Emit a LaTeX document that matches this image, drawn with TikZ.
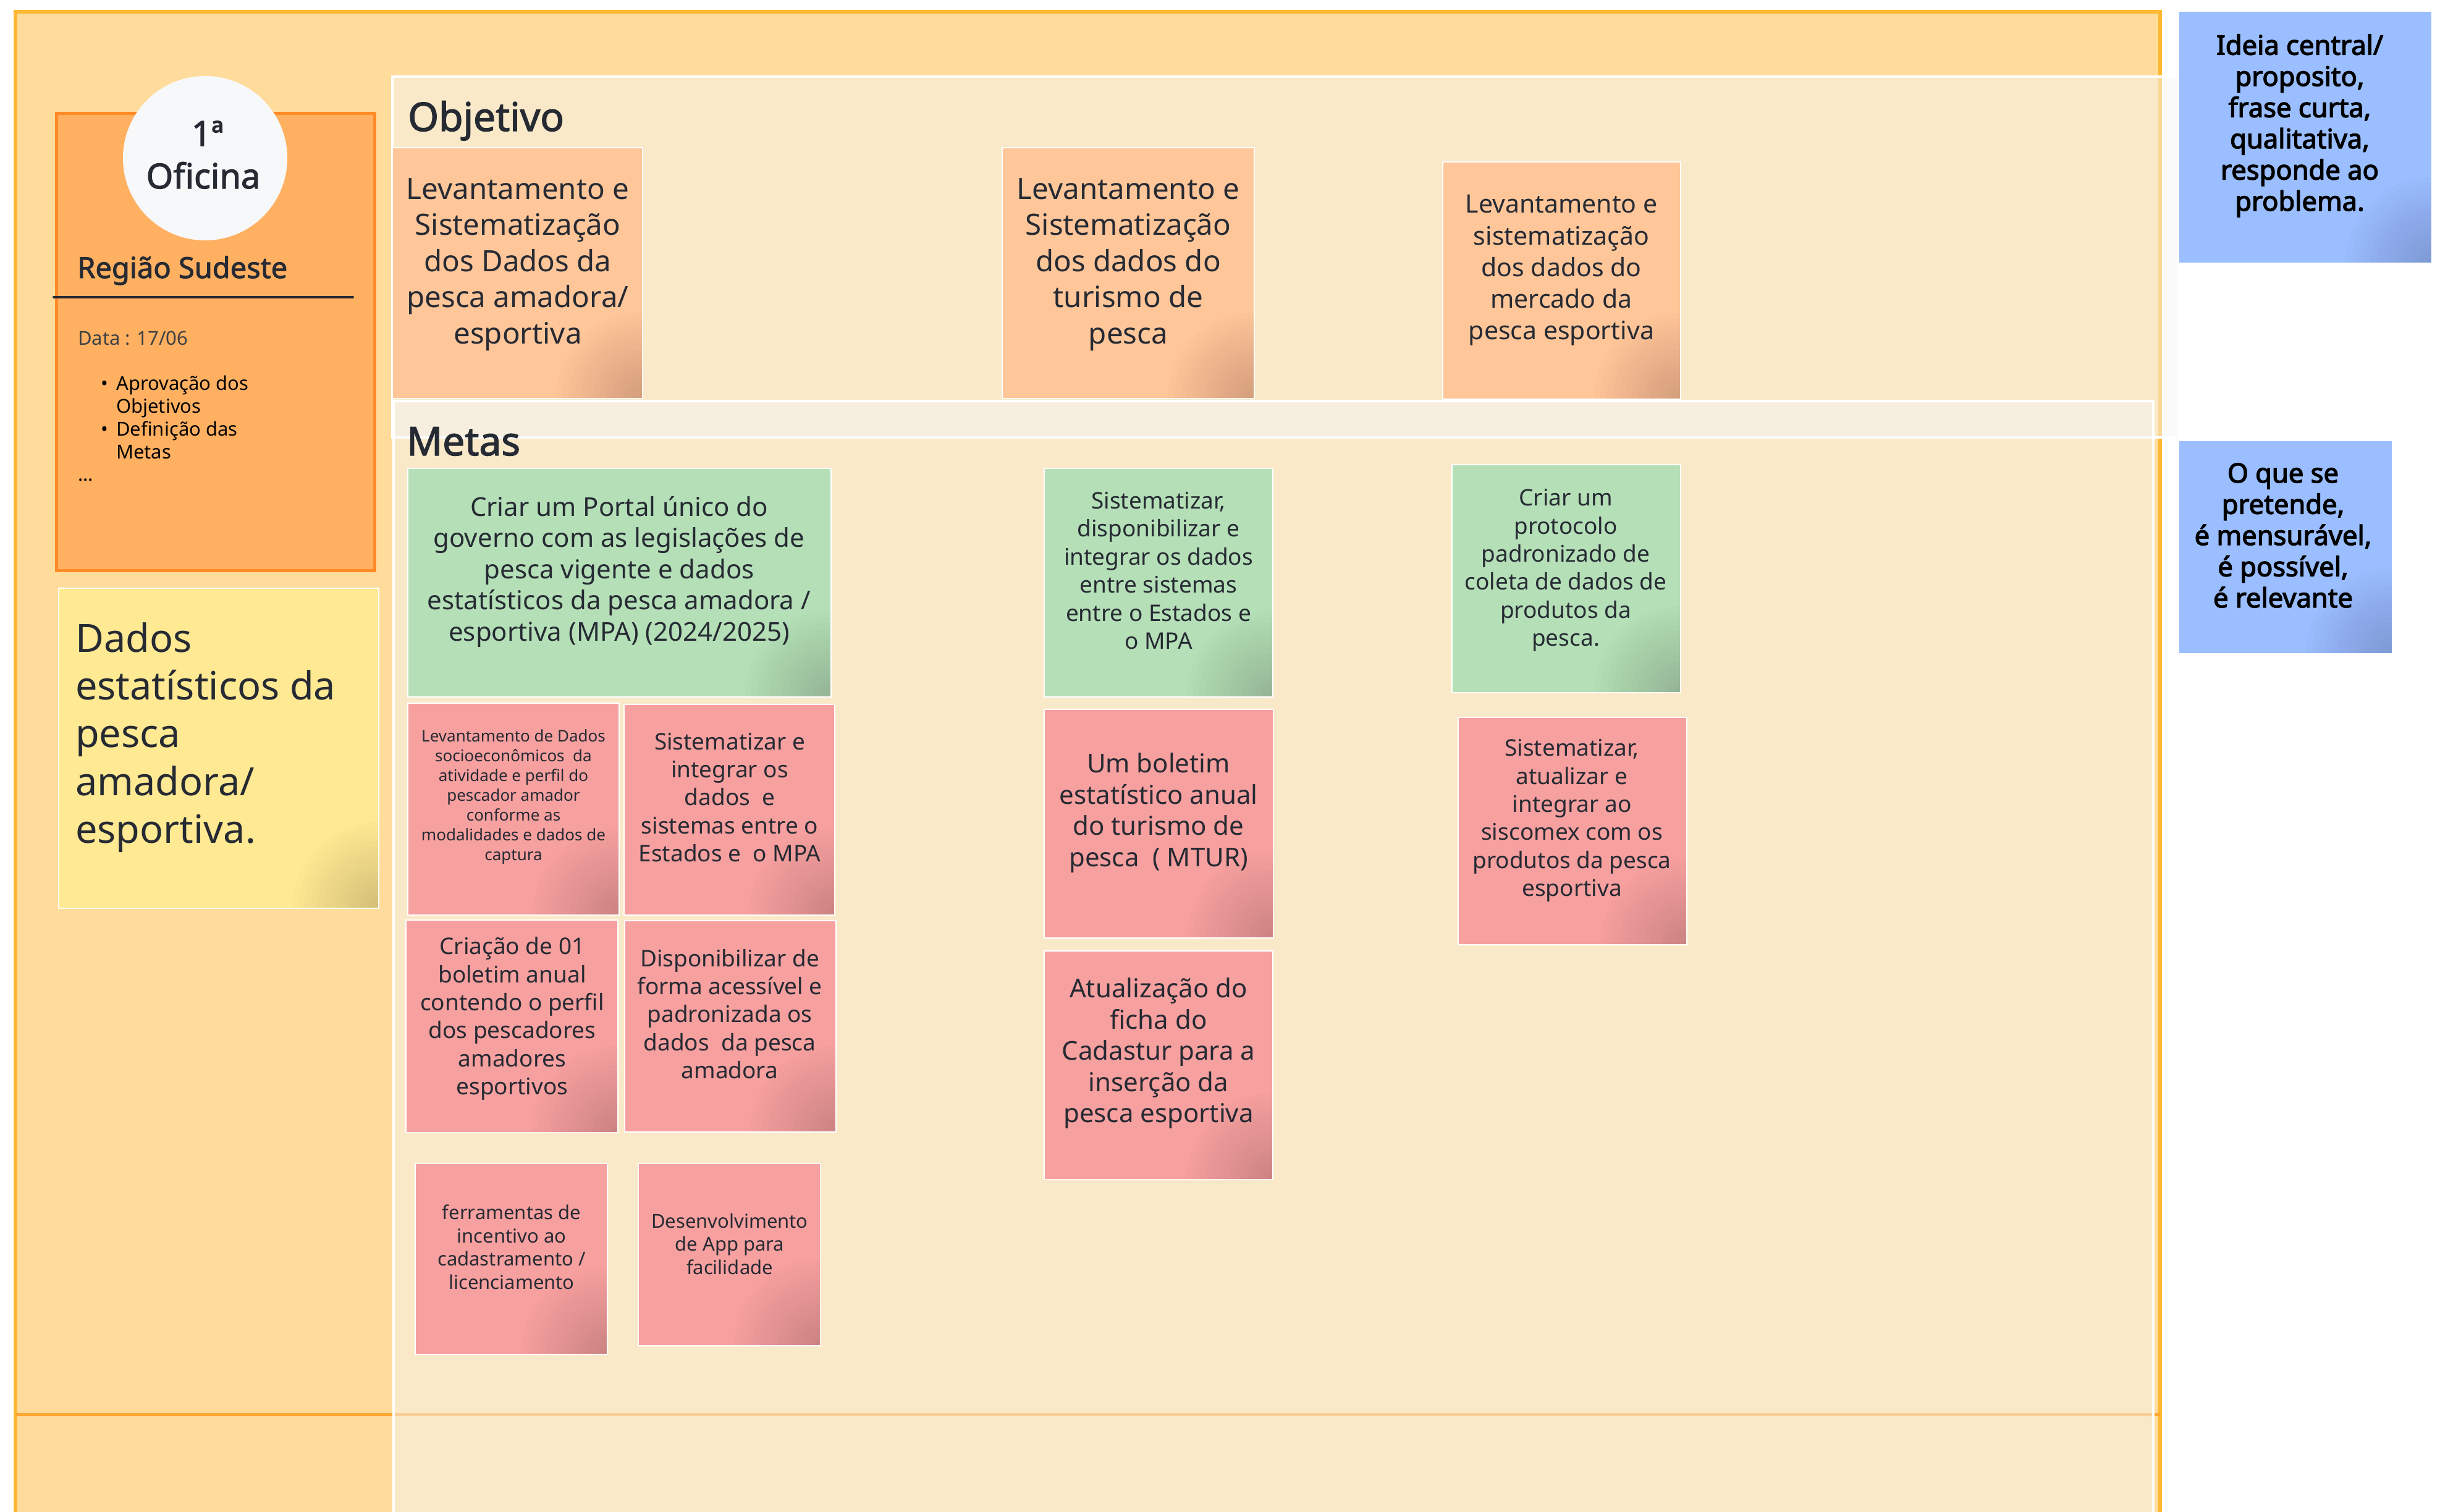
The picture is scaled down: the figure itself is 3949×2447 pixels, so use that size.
\documentclass[tikz,border=0pt]{standalone}
\usepackage{fontspec}
\setmainfont{Noto Sans}
\newfontfamily\hbold{Noto Sans}[FakeBold=2]
\newfontfamily\hboldx{Noto Sans}[FakeBold=3]
\definecolor{frameor}{HTML}{FFDC9B}
\definecolor{frameln}{HTML}{FFB833}
\definecolor{divln}{HTML}{FFA633}
\definecolor{panelc}{HTML}{F5F6F7}
\definecolor{ocard}{HTML}{FFB061}
\definecolor{ocardln}{HTML}{FF8B27}
\definecolor{circf}{HTML}{F7F8FA}
\definecolor{ycard}{HTML}{FFE993}
\definecolor{peach}{HTML}{FFC699}
\definecolor{mgreen}{HTML}{B5DFB7}
\definecolor{mpink}{HTML}{F6A09F}
\definecolor{mblue}{HTML}{9ABEFF}
\definecolor{ink}{HTML}{262A33}
\definecolor{grayt}{HTML}{3C4043}
\begin{document}
\begin{tikzpicture}[x=1pt,y=-1pt,
  card/.style={draw=white, line width=1.5pt, inner sep=0pt, fill=#1,
    path picture={\foreach \r in {10,20,...,140}
      {\fill[black, opacity=0.013] (path picture bounding box.south east) circle (\r pt);}}},
  txt/.style={text=ink, align=center, inner sep=0pt},
  lt/.style={text=ink, inner sep=0pt, anchor=base west},
  f47/.style={font=\fontsize{47.5}{58.6}\selectfont},
  f42/.style={font=\fontsize{42}{50.5}\selectfont},
  f41/.style={font=\fontsize{41}{51.2}\selectfont},
  f37/.style={font=\fontsize{37}{45.4}\selectfont},
  f31/.style={font=\fontsize{31}{37.5}\selectfont},
  f26/.style={font=\fontsize{26}{32}\selectfont},
  fb40/.style={font=\fontsize{43.5}{50.5}\selectfont\hboldx},
  panel/.style={fill=panelc, fill opacity=0.5, draw=white, line width=3.5pt}]
\useasboundingbox (0,0) rectangle (3949,2447);
\clip (0,0) rectangle (3949,2447);
% outer frame
\draw[fill=frameor, draw=frameln, line width=6pt] (25,19) rectangle (3496,2480);
\draw[divln, line width=5pt] (25,2289.5) -- (3496,2289.5);
% panels
\draw[panel] (635,124) rectangle (3526,708);
\draw[panel] (637,649) rectangle (3485,2480);
\node[lt, font=\fontsize{64}{72}\selectfont\hbold] (objl) at (660,212) {Objetivo};
\node[lt, font=\fontsize{64}{72}\selectfont\hbold] (metl) at (658,737) {Metas};
% left card
\node[draw=ocardln, fill=ocard, line width=5pt, minimum width=515pt, minimum height=740pt, inner sep=0pt] (ofic) at (348.5,553) {};
\node[circle, fill=circf, minimum size=266pt, inner sep=0pt] (circ) at (332,256) {};
\node[text=ink, inner sep=0pt, anchor=base, font=\fontsize{56}{64}\selectfont\hbold] (c1) at (336,236) {1ª};
\node[text=ink, inner sep=0pt, anchor=base, font=\fontsize{56}{64}\selectfont\hbold] (c2) at (329,305) {Oficina};
\node[lt, font=\fontsize{47}{52}\selectfont\hbold] (reg) at (125,450) {Região Sudeste};
\coordinate (la) at (87,481);
\coordinate (lb) at (571,481);
\draw[ink, line width=4pt, line cap=round] (la) -- (lb);
\node[lt, text=grayt, font=\fontsize{31}{37}\selectfont] (data) at (126,558) {Data : 17/06};
\begin{scope}[every node/.style={lt, text=black, font=\fontsize{31}{37}\selectfont}]
\node (bu1) at (163,631) {•};
\node (bt1) at (188,631) {Aprovação dos};
\node (bt2) at (188,668) {Objetivos};
\node (bu2) at (163,705) {•};
\node (bt3) at (188,705) {Definição das};
\node (bt4) at (188,742) {Metas};
\node (dots) at (126,778) {...};
\end{scope}
% yellow card
\node[card=ycard, minimum width=518pt, minimum height=518pt] (yel) at (354,1211) {};
\begin{scope}[every node/.style={lt, font=\fontsize{63}{77}\selectfont}]
\node (y1) at (122,1055) {Dados};
\node (y2) at (122,1132) {estatísticos da};
\node (y3) at (122,1209) {pesca};
\node (y4) at (122,1287) {amadora/};
\node (y5) at (122,1364) {esportiva.};
\end{scope}
% objective cards
\node[card=peach, minimum width=405pt, minimum height=406pt] (o1) at (837.5,442) {};
\node[txt, f47] (o1t) at (838,428) {Levantamento e\\Sistematização\\dos Dados da\\pesca amadora/\\esportiva};
\node[card=peach, minimum width=408pt, minimum height=406pt] (o2) at (1826,442) {};
\node[txt, f47] (o2t) at (1826,428) {Levantamento e\\Sistematização\\dos dados do\\turismo de\\pesca};
\node[card=peach, minimum width=385pt, minimum height=384pt] (o3) at (2527.5,454) {};
\node[txt, f41] (o3t) at (2527,437.5) {Levantamento e\\sistematização\\dos dados do\\mercado da\\pesca esportiva};
% metas column 1
\node[card=mgreen, minimum width=685pt, minimum height=370pt] (g1) at (1002.5,943) {};
\node[txt, f42] (g1t) at (1002,925) {Criar um Portal único do\\governo com as legislações de\\pesca vigente e dados\\estatísticos da pesca amadora /\\esportiva (MPA) (2024/2025)};
\node[card=mpink, minimum width=342pt, minimum height=343pt] (pa) at (831,1309.5) {};
\node[txt, f26] (pat) at (831,1290) {Levantamento de Dados\\socioeconômicos\ \ da\\atividade e perfil do\\pescador amador\\conforme as\\modalidades e dados de\\captura};
\node[card=mpink, minimum width=341pt, minimum height=341pt] (pb) at (1180.5,1310.5) {};
\node[txt, f37] (pbt) at (1181,1290.5) {Sistematizar e\\integrar os\\dados\ \ e\\sistemas entre o\\Estados e\ \ o MPA};
\node[card=mpink, minimum width=343pt, minimum height=344pt] (pc) at (828.5,1661) {};
\node[txt, f37] (pct) at (829,1648.5) {Criação de 01\\boletim anual\\contendo o perfil\\dos pescadores\\amadores\\esportivos};
\node[card=mpink, minimum width=342pt, minimum height=342pt] (pd) at (1182,1661) {};
\node[txt, f37] (pdt) at (1181,1641) {Disponibilizar de\\forma acessível e\\padronizada os\\dados\ \ da pesca\\amadora};
\node[card=mpink, minimum width=311pt, minimum height=309pt] (pe) at (827.5,2037.5) {};
\node[txt, f31] (pet) at (828,2018.5) {ferramentas de\\incentivo ao\\cadastramento /\\licenciamento};
\node[card=mpink, minimum width=295pt, minimum height=295pt] (pf) at (1180.5,2030.5) {};
\node[txt, f31] (pft) at (1181,2013) {Desenvolvimento\\de App para\\facilidade};
% metas column 2
\node[card=mgreen, minimum width=370pt, minimum height=370pt] (g2) at (1875,943) {};
\node[txt, f37] (g2t) at (1875,923.5) {Sistematizar,\\disponibilizar e\\integrar os dados\\entre sistemas\\entre o Estados e\\o MPA};
\node[card=mpink, minimum width=371pt, minimum height=370pt] (pg) at (1875.5,1333) {};
\node[txt, f42] (pgt) at (1875,1315.5) {Um boletim\\estatístico anual\\do turismo de\\pesca\ \ ( MTUR)};
\node[card=mpink, minimum width=370pt, minimum height=370pt] (ph) at (1875,1724) {};
\node[txt, f42] (pht) at (1875,1705) {Atualização do\\ficha do\\Cadastur para a\\inserção da\\pesca esportiva};
% metas column 3
\node[card=mgreen, minimum width=370pt, minimum height=369pt] (g3) at (2535,936.5) {};
\node[txt, f37] (g3t) at (2534,923) {Criar um\\protocolo\\padronizado de\\coleta de dados de\\produtos da\\pesca.};
\node[card=mpink, minimum width=370pt, minimum height=368pt] (pi) at (2545,1345) {};
\node[txt, f37] (pit) at (2544,1328) {Sistematizar,\\atualizar e\\integrar ao\\siscomex com os\\produtos da pesca\\esportiva};
% blue notes
\node[card=mblue, minimum width=410pt, minimum height=408pt] (b1) at (3731,222) {};
\node[txt, text=black, fb40] (b1t) at (3722,203.5) {Ideia central/\\proposito,\\frase curta,\\qualitativa,\\responde ao\\problema.};
\node[card=mblue, minimum width=346pt, minimum height=345pt] (b2) at (3699,885.5) {};
\node[txt, text=black, fb40] (b2t) at (3695,866.5) {O que se\\pretende,\\é mensurável,\\é possível,\\é relevante};
\end{tikzpicture}
\end{document}
